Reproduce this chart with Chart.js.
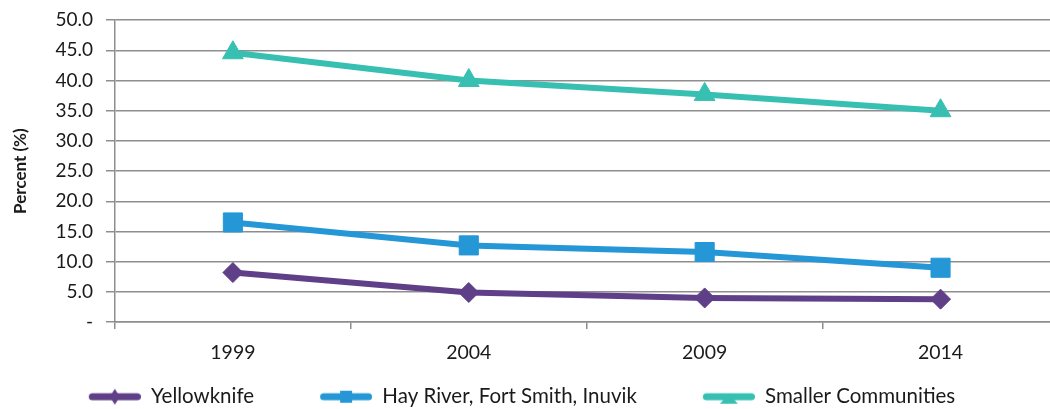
<!DOCTYPE html>
<html>
<head>
<meta charset="utf-8">
<script src="https://cdn.jsdelivr.net/npm/chart.js@4/dist/chart.umd.min.js"></script>
<style>
  html, body { margin: 0; padding: 0; background: #ffffff; overflow: hidden; }
  #wrap { position: relative; width: 1073px; height: 409px; }
</style>
</head>
<body>
<div id="wrap"><canvas id="chart"></canvas></div>
<script>
// Survey years
const years = ['1999', '2004', '2009', '2014'];

// Percent by community group
const yellowknife = [8.2, 4.9, 4.0, 3.8];
const hayRiverFortSmithInuvik = [16.5, 12.7, 11.6, 9.0];
const smallerCommunities = [44.6, 40.0, 37.7, 35.0];

const seriesNames = ['Yellowknife', 'Hay River, Fort Smith, Inuvik', 'Smaller Communities'];
const seriesColors = ['#5f3f88', '#2597d6', '#37c0b1'];
const seriesMarkers = ['rectRot', 'rect', 'triangle'];
const markerRadius = [10, 13.5, 12];

const FONT = 'Lato, "Open Sans", "Liberation Sans", sans-serif';
const GRID = '#8e8e8e';
const SWATCH_GAP = 56;   // empty space kept before each legend swatch
const SWATCH_LINE = 52;  // length of the swatch itself

// Line-with-marker swatch for the legend, with blank room on its left
function legendSwatch(color, marker) {
  const w = SWATCH_GAP + SWATCH_LINE, h = 20;
  const c = document.createElement('canvas');
  c.width = w; c.height = h;
  const g = c.getContext('2d');
  g.strokeStyle = color;
  g.fillStyle = color;
  g.lineWidth = 7;
  g.lineCap = 'round';
  g.beginPath();
  g.moveTo(SWATCH_GAP + 3.5, h / 2);
  g.lineTo(w - 3.5, h / 2);
  g.stroke();
  const cx = SWATCH_GAP + SWATCH_LINE / 2, cy = h / 2;
  g.beginPath();
  if (marker === 'rectRot') {
    g.moveTo(cx, cy - 8); g.lineTo(cx + 5, cy); g.lineTo(cx, cy + 8); g.lineTo(cx - 5, cy);
  } else if (marker === 'rect') {
    g.rect(cx - 6, cy - 6, 12, 12);
  } else {
    g.moveTo(cx, cy - 3); g.lineTo(cx + 9, cy + 7); g.lineTo(cx - 9, cy + 7);
  }
  g.closePath();
  g.fill();
  return c;
}
const swatches = seriesColors.map((col, i) => legendSwatch(col, seriesMarkers[i]));

// Nudge the legend row sideways after layout
const legendShift = {
  id: 'legendShift',
  afterLayout(chart, args, opts) {
    const l = chart.legend;
    if (l) { l.left += opts.dx; l.right += opts.dx; }
  }
};

const values = [yellowknife, hayRiverFortSmithInuvik, smallerCommunities];

new Chart(document.getElementById('chart'), {
  type: 'line',
  data: {
    labels: years,
    datasets: values.map((vals, i) => ({
      label: seriesNames[i],
      data: vals,
      borderColor: seriesColors[i],
      backgroundColor: seriesColors[i],
      borderWidth: 6,
      tension: 0,
      pointStyle: seriesMarkers[i],
      pointRadius: markerRadius[i],
      pointHoverRadius: markerRadius[i],
      pointBorderWidth: 1,
      pointBackgroundColor: seriesColors[i],
      pointBorderColor: seriesColors[i]
    }))
  },
  plugins: [legendShift],
  options: {
    responsive: true,
    maintainAspectRatio: false,
    animation: false,
    layout: { padding: { top: 4, right: 3, left: 8, bottom: -8 } },
    plugins: {
      tooltip: { enabled: false },
      legendShift: { dx: -45 },
      legend: {
        position: 'bottom',
        labels: {
          font: { family: FONT, size: 20.5 },
          color: '#1a1a1a',
          usePointStyle: true,
          pointStyleWidth: SWATCH_GAP + SWATCH_LINE,
          boxHeight: 19,
          padding: 10,
          generateLabels(chart) {
            const items = Chart.defaults.plugins.legend.labels.generateLabels(chart);
            items.forEach((it, i) => { it.pointStyle = swatches[i]; });
            return items;
          }
        }
      }
    },
    scales: {
      x: {
        offset: true,
        grid: {
          offset: true,
          drawOnChartArea: false,
          drawTicks: true,
          tickLength: 7,
          color: GRID,
          lineWidth: 1.5
        },
        border: { color: GRID, width: 1.5 },
        ticks: {
          font: { family: FONT, size: 19.5 },
          color: '#1a1a1a',
          padding: 12
        }
      },
      y: {
        min: 0,
        max: 50,
        grid: {
          color: GRID,
          lineWidth: 1.5,
          drawTicks: true,
          tickLength: 9
        },
        border: { color: GRID, width: 1.5 },
        ticks: {
          stepSize: 5,
          autoSkip: false,
          font: { family: FONT, size: 19, lineHeight: 0.75 },
          color: '#1a1a1a',
          padding: 13,
          callback: v => (v === 0 ? '-' : v.toFixed(1))
        },
        title: {
          display: true,
          text: 'Percent (%)',
          font: { family: FONT, size: 17, weight: 'bold' },
          color: '#1a1a1a',
          padding: { top: 2, bottom: 12 }
        }
      }
    }
  }
});
</script>
</body>
</html>
